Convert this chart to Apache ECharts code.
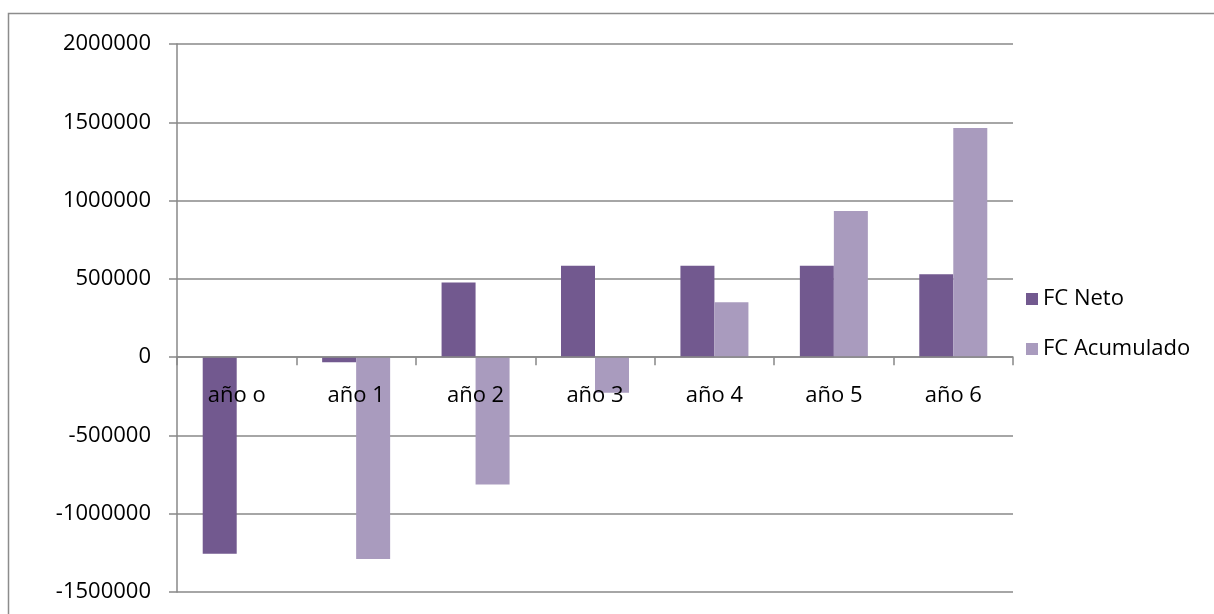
<!DOCTYPE html>
<html>
<head>
<meta charset="utf-8">
<script src="https://cdn.jsdelivr.net/npm/echarts@6/dist/echarts.min.js"></script>
<style>
html,body{margin:0;padding:0;background:#fff;}
#c{width:1214px;height:614px;}
</style>
</head>
<body>
<div id="c"></div>
<script>
const categories = ['año o', 'año 1', 'año 2', 'año 3', 'año 4', 'año 5', 'año 6'];
const fcNeto = [-1255000, -32000, 477000, 584000, 584000, 584000, 529000];
const fcAcumulado = [null, -1290000, -813000, -227000, 350000, 934000, 1464000];
const seriesNames = ['FC Neto', 'FC Acumulado'];
const yTicks = { min: -1500000, max: 2000000, interval: 500000 };

const FONT = '"Open Sans", "Liberation Sans", sans-serif';
const GRAY = '#888888';
const chart = echarts.init(document.getElementById('c'), null, { renderer: 'canvas' });
chart.setOption({
  animation: false,
  backgroundColor: '#ffffff',
  graphic: [{
    type: 'polyline',
    silent: true,
    shape: { points: [[8.5, 614], [8.5, 13.5], [1214, 13.5]] },
    style: { stroke: '#8c8c8c', lineWidth: 1.5, fill: null }
  }],
  grid: { left: 177, right: 201, top: 44, bottom: 22, containLabel: false, outerBoundsMode: 'none' },
  legend: {
    orient: 'vertical',
    left: 1021,
    top: 283,
    itemWidth: 12,
    itemHeight: 12,
    itemGap: 28,
    icon: 'rect',
    textStyle: { fontFamily: FONT, fontSize: 22, color: '#000' },
    data: seriesNames
  },
  xAxis: {
    type: 'category',
    data: categories,
    axisLine: { onZero: true, lineStyle: { color: GRAY, width: 1.5 } },
    axisTick: { show: true, length: 8, alignWithLabel: false, lineStyle: { color: GRAY, width: 1.5 } },
    axisLabel: { fontFamily: FONT, fontSize: 22, color: '#000', margin: -207, interval: 0 },
    splitLine: { show: false },
    z: 10
  },
  yAxis: {
    type: 'value',
    min: yTicks.min,
    max: yTicks.max,
    interval: yTicks.interval,
    axisLine: { show: true, lineStyle: { color: GRAY, width: 1.5 } },
    axisTick: { show: true, length: 8, lineStyle: { color: GRAY, width: 1.5 } },
    axisLabel: { fontFamily: FONT, fontSize: 22, color: '#000', margin: 26, formatter: v => String(v) },
    splitLine: { show: true, lineStyle: { color: GRAY, width: 1.5 } }
  },
  series: [
    {
      name: seriesNames[0],
      type: 'bar',
      data: fcNeto,
      barWidth: 34,
      barGap: '0%',
      itemStyle: { color: '#72598f' },
      z: 2
    },
    {
      name: seriesNames[1],
      type: 'bar',
      data: fcAcumulado,
      barWidth: 34,
      barGap: '0%',
      itemStyle: { color: '#a99bbe' },
      z: 2
    }
  ]
});
</script>
</body>
</html>
